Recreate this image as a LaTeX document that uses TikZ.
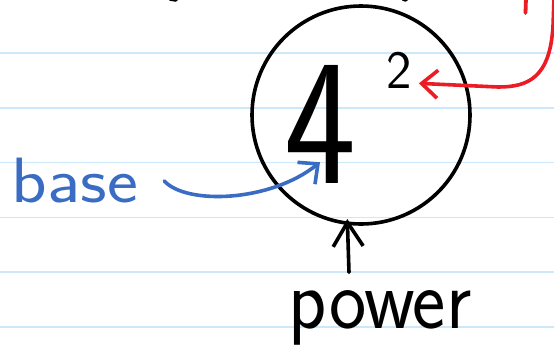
\documentclass[tikz,border=0pt]{standalone}
\usetikzlibrary{arrows.meta}
\definecolor{penblue}{RGB}{58,108,196}
\definecolor{penred}{RGB}{236,28,36}
\definecolor{ruling}{RGB}{205,232,248}
\begin{document}
\begin{tikzpicture}[x=1pt, y=-1pt, line cap=round, line join=round,
  ink/.style={line width=3.6pt},
  hand/.style={inner sep=0pt, font=\sffamily}]
  \fill[white] (0,0) rectangle (554,357);
  \useasboundingbox (0,0) rectangle (554,357);
  % ruled paper
  \foreach \yy in {53,107.8,162.6,217.4,272.2,327}
    \draw[ruling, line width=1.5pt] (0,\yy) -- (554,\yy);
  % bits of writing cut off at the top
  \draw[ink] (170,-1) -- (176,0); \draw[ink] (403,-1) -- (406,0);
  \draw[penred, line width=3.8pt] (526,-2) -- (525.5,13);
  % the circled term
  \node[draw, ink, circle, minimum size=218pt, inner sep=0pt] (bubble) at (361,115) {};
  \node[hand, font=\sffamily\fontsize{180}{180}\selectfont, xscale=0.85] (numeral) at (320,124) {4};
  \node[hand, font=\sffamily\fontsize{54}{54}\selectfont] (expo) at (399,70) {2};
  % labels
  \node[hand, penblue, font=\sffamily\fontsize{64}{64}\selectfont, xscale=1.15] (base) at (75,181) {base};
  \node[hand, font=\sffamily\fontsize{86}{86}\selectfont, xscale=0.92] (power) at (380,318) {power};
  % arrows
  \draw[ink, penblue, -{Straight Barb[length=15pt,width=28pt]}]
    ([xshift=26pt]base.east) .. controls +(22,24) and +(-50,40) .. ([yshift=21pt]numeral.south);
  \draw[ink, -{Straight Barb[length=24pt,width=30pt]}, shorten >=-6pt]
    ([xshift=-31pt,yshift=18pt]power.north) -- (bubble.263);
  \coordinate (redstart) at (554,-1);
  \draw[ink, penred, -{Straight Barb[length=16pt,width=28pt]}]
    (redstart) -- (553,26) .. controls (550,78) and (528,87) .. (498,87)
    -- ([xshift=7pt,yshift=5pt]expo.south east);
\end{tikzpicture}
\end{document}
